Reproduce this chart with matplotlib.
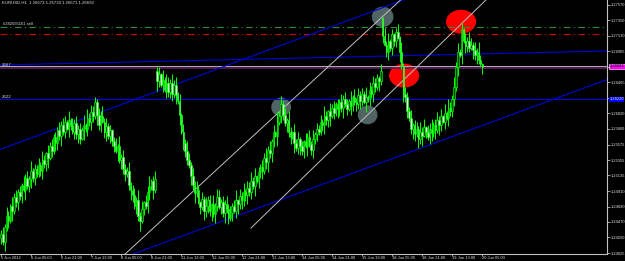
import numpy as np
import matplotlib
matplotlib.use("Agg")
import matplotlib.pyplot as plt
from matplotlib.patches import Ellipse
from matplotlib.transforms import blended_transform_factory

plt.rcParams["font.family"] = ["Liberation Sans", "DejaVu Sans"]

# EURUSD H1, closes in pips above 1.2000 (672 -> 1.2672)
close_pips = [
    430, 418, 440, 455, 448, 470, 462, 482, 476, 490,
    484, 500, 492, 510, 498, 508, 520, 510, 522, 515,
    528, 520, 535, 530, 545, 538, 555, 548, 568, 560,
    578, 570, 585, 575, 590, 580, 592, 584, 576, 588,
    572, 580, 566, 578, 586, 580, 596, 590, 604, 598,
    618, 600, 585, 598, 590, 575, 584, 570, 578, 562,
    555, 548, 556, 535, 540, 522, 515, 520, 500, 492,
    485, 470, 478, 455, 448, 465, 475, 470, 490, 498,
    505, 492, 508, 648, 658, 642, 650, 636, 646, 632,
    645, 630, 642, 628, 620, 600, 575, 560, 548, 535,
    528, 512, 500, 488, 492, 475, 468, 480, 462, 470,
    478, 462, 472, 458, 470, 482, 468, 476, 460, 472,
    466, 452, 460, 470, 462, 478, 472, 484, 478, 490,
    485, 496, 490, 505, 498, 512, 505, 518, 526, 520,
    538, 532, 550, 545, 562, 575, 570, 590, 598, 615,
    600, 588, 592, 575, 568, 575, 560, 552, 565, 555,
    548, 562, 555, 568, 558, 550, 565, 572, 580, 575,
    590, 585, 598, 592, 605, 598, 610, 602, 615, 608,
    618, 610, 622, 615, 608, 620, 612, 625, 618, 615,
    628, 620, 630, 618, 626, 622, 635, 630, 645, 640,
    652, 648, 662, 712, 700, 690, 705, 695, 715, 705,
    718, 710, 690, 670, 630, 625, 605, 595, 580, 585,
    572, 580, 565, 576, 570, 582, 575, 568, 580, 574,
    586, 578, 592, 585, 598, 590, 602, 596, 610, 605,
    622, 640, 668, 690, 686, 722, 705, 698, 705, 696,
    700, 692, 686, 690, 678, 672, 669,
]
# wick lengths above / below the body, in steps of 2 pips
up_wick = ("3527416352" "4163527243" "5274163524" "2635417263" "5342716354"
           "4254736241" "3617254362" "4527361547" "2463517264" "3746251637"
           "5263741526" "3417265243" "6352471536" "2547361425" "4736251746"
           "3527416352" "4163527243" "5274163524" "2635417263" "5342716354"
           "3254736241" "3617254362" "4527361547" "2463517264" "3746251637"
           "5263741")
dn_wick = ("4263517246" "3517246352" "2463571426" "5372416325" "3641725364"
           "2735146253" "4172635247" "5263714256" "3627415263" "4536271543"
           "2647315264" "5372641537" "3426157364" "4635271546" "2573641725"
           "4263517246" "3517246352" "2463571426" "5372416325" "3641725364"
           "2735146253" "4172635247" "5263714256" "3627415263" "4536271543"
           "2647315")
gap_opens = {83: 662, 203: 738}
spike_highs = {83: 668, 203: 740, 245: 731}

time_labels = ["5 Jun 2012", "6 Jun 05:00", "6 Jun 21:00", "7 Jun 13:00", "8 Jun 05:00",
               "8 Jun 21:00", "11 Jun 13:00", "12 Jun 05:00", "12 Jun 21:00", "13 Jun 13:00",
               "14 Jun 05:00", "14 Jun 21:00", "15 Jun 13:00", "18 Jun 05:00", "18 Jun 21:00",
               "19 Jun 13:00", "20 Jun 05:00"]
price_ticks = [1.27570, 1.27350, 1.27130, 1.26905, 1.26685, 1.26465, 1.26245, 1.26020,
               1.25800, 1.25575, 1.25355, 1.25135, 1.24910, 1.24690, 1.24470, 1.24250, 1.24025]

# chart objects (bar index, price)
blue_rays = [((0, 1.2551), (214, 1.2764)), ((65, 1.2396), (240, 1.2569)),
             ((0, 1.26712), (322, 1.26912))]
grey_line_c = ((64.9, 1.23984), (202.7, 1.27397))
grey_ray_d = ((133, 1.24384), (195, 1.2600))  # starts at its first point
grey_marks = [(203, 1.2740, 11.5, 0.0029), (149, 1.2611, 10.5, 0.0027), (195, 1.2600, 10.5, 0.0027)]
red_marks = [(244.7, 1.2733, 16, 0.0034), (214.4, 1.2656, 16, 0.0034)]
hline_blue = 1.26220
hline_purple = 1.26670
bid = 1.26692
order_tp = 1.27254
order_sl = 1.27154

closes = 1.2 + np.array(close_pips) / 10000.0
n = len(closes)
opens = np.r_[closes[0] - 0.0006, closes[:-1]]
for k, v in gap_opens.items():
    opens[k] = 1.2 + v / 10000.0
ups = np.array([int(c) for c in up_wick]) * 2 / 10000.0
dns = np.array([int(c) for c in dn_wick]) * 2 / 10000.0
highs = np.maximum(opens, closes) + ups
lows = np.minimum(opens, closes) - dns
for k, v in spike_highs.items():
    highs[k] = 1.2 + v / 10000.0

fig = plt.figure(figsize=(6.25, 2.61), dpi=100, facecolor="black")
ax = fig.add_axes([0, 7 / 261, 607 / 625, 254 / 261], facecolor="black")
ax.set_xlim(-0.5, 322.3)
ax.set_ylim(1.24013, 1.27640)

fg = "#e0e0e0"
idx = np.arange(n)

# marks behind candles
for x, y, w, h in grey_marks:
    ax.add_patch(Ellipse((x, y), w, h, facecolor="#5a7070", edgecolor="none", alpha=0.9, zorder=1))
for x, y, w, h in red_marks:
    ax.add_patch(Ellipse((x, y), w, h, facecolor="#ff0000", edgecolor="none", zorder=1))

# horizontal lines
ax.axhline(order_tp, color="#2e8b2e", lw=0.8, ls=(0, (6, 3, 1, 3)), zorder=2)
ax.axhline(order_sl, color="#d00000", lw=0.8, ls=(0, (6, 3, 1, 3)), zorder=2)
ax.axhline(hline_blue, color="#0000e0", lw=0.8, zorder=2)
ax.axhline(bid, color="#b0b0b0", lw=0.7, zorder=2)
ax.axhline(hline_purple, color="#602060", lw=1.2, zorder=2)

for p1, p2 in blue_rays:
    ax.axline(p1, p2, color="#0000d8", lw=0.8, zorder=2)
ax.axline(grey_line_c[0], grey_line_c[1], color="#c0c0c0", lw=0.7, zorder=2)
(x1, y1), (x2, y2) = grey_ray_d
x_end = 330
ax.plot([x1, x_end], [y1, y1 + (y2 - y1) / (x2 - x1) * (x_end - x1)],
        color="#c0c0c0", lw=0.7, zorder=2)

# candles
ax.vlines(idx, lows, highs, color="#00ff00", lw=0.75, zorder=3)
bull = closes >= opens
body_h = np.maximum(np.abs(closes - opens), 0.00004)
ax.bar(idx[bull], body_h[bull], bottom=opens[bull], width=0.85, color="#004400",
       edgecolor="#00ff00", linewidth=0.45, zorder=4)
ax.bar(idx[~bull], body_h[~bull], bottom=closes[~bull], width=0.85, color="#e8ffe8",
       edgecolor="#00ff00", linewidth=0.45, zorder=4)

# axes look
for s in ["top", "left"]:
    ax.spines[s].set_visible(False)
for s in ["right", "bottom"]:
    ax.spines[s].set_color("#c0c0c0")
    ax.spines[s].set_linewidth(0.8)
ax.yaxis.tick_right()
ax.set_yticks(price_ticks)
# the two covered by the price boxes are hidden
ax.set_yticklabels(["" if v in (1.26685, 1.26245) else f"{v:.5f}" for v in price_ticks])
ax.set_xticks(np.arange(len(time_labels)) * 16)
ax.set_xticklabels(time_labels, ha="left")
ax.tick_params(axis="y", colors=fg, labelsize=2.9, length=2, width=0.5, pad=0.5)
ax.tick_params(axis="x", colors=fg, labelsize=2.9, length=1.5, width=0.5, pad=0.2)

# price boxes on the right scale
tr = blended_transform_factory(ax.transAxes, ax.transData)
ax.text(1.004, bid, f"{bid:.5f}", transform=tr, fontsize=2.9, color="black", va="center",
        ha="left", bbox=dict(boxstyle="square,pad=0.12", fc="#ff00ff", ec="white", lw=0.4),
        clip_on=False, zorder=6)
ax.text(1.004, hline_blue, f"{hline_blue:.5f}", transform=tr, fontsize=2.9, color="white",
        va="center", ha="left", bbox=dict(boxstyle="square,pad=0.12", fc="#0000ff", ec="none"),
        clip_on=False, zorder=6)

# texts
ax.text(0.003, 0.997, "EURUSD,H1  1.26673 1.26730 1.26673 1.26692", transform=ax.transAxes,
        fontsize=3.1, color=fg, va="top", ha="left")
ax.text(1, order_tp + 0.0002, "#282555161 sell", fontsize=3.0, color=fg, va="bottom", ha="left")
ax.text(0.5, hline_purple + 0.00012, "2667", fontsize=3.2, color=fg, va="bottom", ha="left")
ax.text(0.5, hline_blue + 0.00012, "2622", fontsize=3.2, color=fg, va="bottom", ha="left")

fig.savefig("out.png", dpi=100, facecolor="black")
